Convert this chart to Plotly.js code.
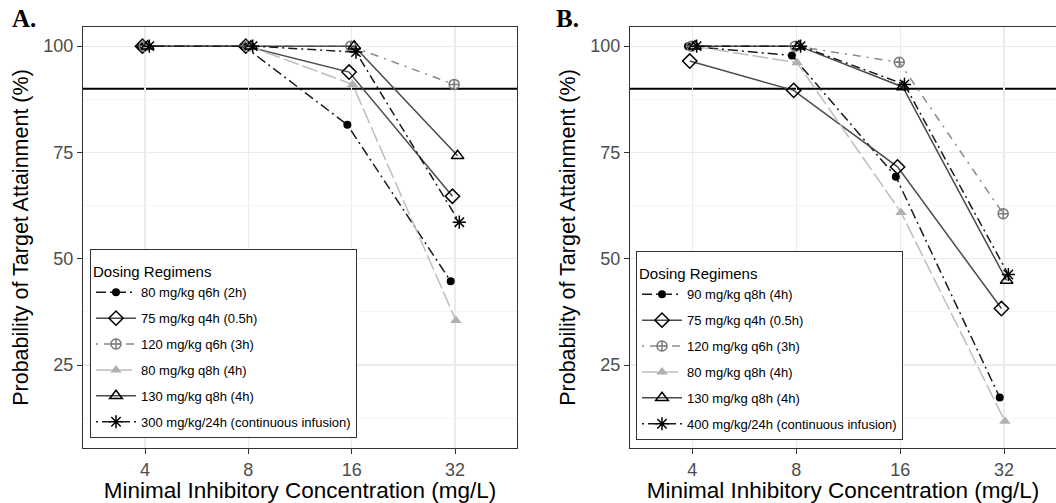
<!DOCTYPE html>
<html>
<head>
<meta charset="utf-8">
<script src="https://cdn.plot.ly/plotly-3.0.1.min.js"></script>
<style>html,body{margin:0;padding:0;background:#fff;}#chart{width:1056px;height:503px;}</style>
</head>
<body>
<div id="chart"></div>
<script>
// ---------- DATA ----------
const micLabels = ["4", "8", "16", "32"];           // MIC (mg/L)
const targetPTA = 90;                                // target line (%)
const panelLabels = ["A.", "B."];
const legendTitle = "Dosing Regimens";
const xTitle = "Minimal Inhibitory Concentration (mg/L)";
const yTitle = "Probability of Target Attainment (%)";

// Panel A regimens
const namesA = ["80 mg/kg q6h (2h)", "75 mg/kg q4h (0.5h)", "120 mg/kg q6h (3h)",
                "80 mg/kg q8h (4h)", "130 mg/kg q8h (4h)", "300 mg/kg/24h (continuous infusion)"];
const ptaA_80q6h   = [100, 100, 81.5, 44.7];
const ptaA_75q4h   = [100, 100, 93.9, 64.7];
const ptaA_120q6h  = [100, 100, 100, 91.0];
const ptaA_80q8h   = [100, 100, 91.0, 35.5];
const ptaA_130q8h  = [100, 100, 100, 74.2];
const ptaA_300ci   = [100, 100, 98.6, 58.6];

// Panel B regimens
const namesB = ["90 mg/kg q8h (4h)", "75 mg/kg q4h (0.5h)", "120 mg/kg q6h (3h)",
                "80 mg/kg q8h (4h)", "130 mg/kg q8h (4h)", "400 mg/kg/24h (continuous infusion)"];
const ptaB_90q8h   = [100, 97.8, 69.3, 17.4];
const ptaB_75q4h   = [96.5, 89.6, 71.6, 38.3];
const ptaB_120q6h  = [100, 100, 96.2, 60.6];
const ptaB_80q8h   = [100, 96.1, 60.9, 11.8];
const ptaB_130q8h  = [100, 100, 90.4, 44.9];
const ptaB_400ci   = [100, 100, 91.0, 46.3];

// ---------- STYLES ----------
const styles = [
  {symbol: "circle",            size: 8,  mcolor: "#000000", lcolor: "#1a1a1a", dash: "10px,4px,2px,4px", width: 1.5, open: false},
  {symbol: "diamond-open",      size: 11, mcolor: "#000000", lcolor: "#4a4a4a", dash: "solid",            width: 1.5, open: true},
  {symbol: "circle-cross-open", size: 10, mcolor: "#7a7a7a", lcolor: "#8a8a8a", dash: "2px,6px,8px,6px",  width: 1.5, open: true},
  {symbol: "triangle-up",       size: 10, mcolor: "#b0b0b0", lcolor: "#bdbdbd", dash: "16px,4px",         width: 1.5, open: false},
  {symbol: "triangle-up-open",  size: 11, mcolor: "#000000", lcolor: "#4a4a4a", dash: "solid",            width: 1.5, open: true},
  {symbol: "asterisk-open",     size: 11, mcolor: "#000000", lcolor: "#1a1a1a", dash: "2px,4px,9px,4px",  width: 1.5, open: true}
];
const dodgeWidth = 0.1;

const FONT = "Liberation Sans, Arial, Helvetica, sans-serif";

function makeTraces(names, series, xa, ya, legendId) {
  return series.map((vals, g) => {
    const st = styles[g];
    const off = (g - (series.length - 1) / 2) * dodgeWidth / series.length;
    return {
      type: "scatter", mode: "lines+markers",
      name: names[g],
      x: micLabels.map((_, i) => i + off),
      y: vals,
      xaxis: xa, yaxis: ya,
      legend: legendId,
      legendgroup: legendId + "_" + g,
      line: {color: st.lcolor, width: st.width, dash: st.dash},
      marker: {symbol: st.symbol, size: st.size, color: st.mcolor,
               line: {color: st.mcolor, width: st.open ? 1.5 : 0}},
      hoverinfo: "skip"
    };
  });
}

const traces = [].concat(
  makeTraces(namesA, [ptaA_80q6h, ptaA_75q4h, ptaA_120q6h, ptaA_80q8h, ptaA_130q8h, ptaA_300ci], "x", "y", "legend"),
  makeTraces(namesB, [ptaB_90q8h, ptaB_75q4h, ptaB_120q6h, ptaB_80q8h, ptaB_130q8h, ptaB_400ci], "x2", "y2", "legend2")
);

const W = 1056, H = 503;
const yDomain = [1 - 448 / H, 1 - 27 / H];

function xAxis(domain, range, mirror) {
  return {
    domain: domain, range: range,
    tickmode: "array", tickvals: micLabels.map((_, i) => i), ticktext: micLabels,
    showgrid: true, gridcolor: "#ebebeb", gridwidth: 1.2,
    zeroline: false, showline: true, linecolor: "#333333", linewidth: 1, mirror: mirror,
    ticks: "outside", ticklen: 5, tickwidth: 1, tickcolor: "#333333",
    tickfont: {family: FONT, size: 18, color: "#4d4d4d"},
    title: {text: xTitle, font: {family: FONT, size: 22.5, color: "#000"}, standoff: 9},
    fixedrange: true
  };
}
function yAxis(anchor, mirror) {
  return {
    domain: yDomain, range: [5.5, 104.5], anchor: anchor,
    tickmode: "array", tickvals: [25, 50, 75, 100],
    showgrid: true, gridcolor: "#ebebeb", gridwidth: 1.2,
    minor: {tickmode: "array", tickvals: [12.5, 37.5, 62.5, 87.5], showgrid: true, gridcolor: "#f3f3f3", gridwidth: 0.8, ticks: ""},
    zeroline: false, showline: true, linecolor: "#333333", linewidth: 1, mirror: mirror,
    ticks: "outside", ticklen: 5, tickwidth: 1, tickcolor: "#333333",
    tickfont: {family: FONT, size: 18, color: "#4d4d4d"},
    title: {text: yTitle, font: {family: FONT, size: 21.5, color: "#000"}, standoff: 8},
    fixedrange: true
  };
}

function legendCfg(xpx, ypx) {
  return {
    x: xpx / W, y: 1 - ypx / H, xanchor: "left", yanchor: "top",
    bgcolor: "#ffffff", bordercolor: "#333333", borderwidth: 1,
    font: {family: FONT, size: 13, color: "#000"},
    title: {text: "<span style='font-size:15px'>" + legendTitle + "</span>", font: {family: FONT, size: 21, color: "#000"}},
    tracegroupgap: 6, itemwidth: 40, traceorder: "grouped"
  };
}

const layout = {
  width: W, height: H,
  margin: {l: 0, r: 0, t: 0, b: 0},
  paper_bgcolor: "#ffffff", plot_bgcolor: "#ffffff",
  showlegend: true,
  xaxis: xAxis([83 / W, 517 / W], [-0.6, 3.6], true),
  yaxis: yAxis("x", true),
  xaxis2: xAxis([630 / W, 1], [-0.6, 3.5], true),
  yaxis2: yAxis("x2", false),
  legend: legendCfg(90, 249),
  legend2: legendCfg(636, 251),
  shapes: [
    {type: "line", xref: "x domain", yref: "y", x0: 0, x1: 1, y0: targetPTA, y1: targetPTA, line: {color: "#000", width: 2}, layer: "below"},
    {type: "line", xref: "x2 domain", yref: "y2", x0: 0, x1: 1, y0: targetPTA, y1: targetPTA, line: {color: "#000", width: 2}, layer: "below"}
  ],
  annotations: [
    {text: "<b>" + panelLabels[0] + "</b>", xref: "paper", yref: "paper", x: 10 / W, y: 1 - 18 / H, xanchor: "left", yanchor: "middle", showarrow: false, font: {family: "Liberation Serif, Times New Roman, serif", size: 25, color: "#000"}},
    {text: "<b>" + panelLabels[1] + "</b>", xref: "paper", yref: "paper", x: 554 / W, y: 1 - 18 / H, xanchor: "left", yanchor: "middle", showarrow: false, font: {family: "Liberation Serif, Times New Roman, serif", size: 25, color: "#000"}}
  ]
};

Plotly.newPlot("chart", traces, layout, {displayModeBar: false, staticPlot: true});
</script>
</body>
</html>
